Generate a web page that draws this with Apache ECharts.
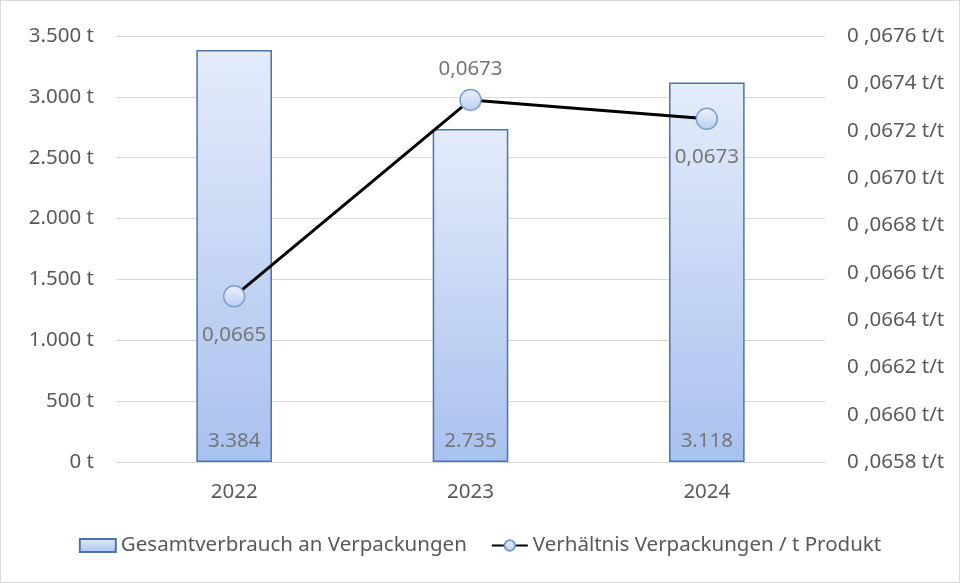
<!DOCTYPE html>
<html>
<head>
<meta charset="utf-8">
<script src="https://cdn.jsdelivr.net/npm/echarts@6/dist/echarts.min.js"></script>
<style>
  html, body { margin: 0; padding: 0; background: #fff; }
  #main { width: 958px; height: 581px; border: 1px solid #d9d9d9; }
</style>
</head>
<body>
<div id="main"></div>
<script>
var years = ['2022', '2023', '2024'];
var verbrauch = [3384, 2735, 3118];
var verhaeltnis = [0.0665, 0.06733, 0.06725];
var lineLabelPos = ['bottom', 'top', 'bottom'];

var myChart = echarts.init(document.getElementById('main'));

var barGradient = new echarts.graphic.LinearGradient(0, 0, 0, 1, [
    {offset: 0, color: '#e4ecfa'},
    {offset: 1, color: '#a8c1ee'}
]);
var dotGradient = new echarts.graphic.LinearGradient(0, 0, 0, 1, [
    {offset: 0, color: '#eef3fc'},
    {offset: 1, color: '#b9cdf0'}
]);

var font = 'Noto Sans';

function tausender(v) {
    return String(v).replace(/\B(?=(\d{3})+(?!\d))/g, '.');
}

var option = {
    animation: false,
    textStyle: {fontFamily: font},
    grid: {left: 115, right: 134, top: 35, bottom: 120},
    legend: {
        bottom: 21,
        left: 'center',
        itemGap: 24,
        itemWidth: 36,
        itemHeight: 13,
        textStyle: {color: '#595959', fontSize: 20.5, fontFamily: font},
        data: [
            {name: 'Gesamtverbrauch an Verpackungen', icon: 'rect'},
            {name: 'Verhältnis Verpackungen / t Produkt'}
        ]
    },
    xAxis: {
        type: 'category',
        data: years,
        axisLine: {lineStyle: {color: '#d9d9d9'}},
        axisTick: {show: false},
        axisLabel: {color: '#595959', fontSize: 20.5, margin: 20}
    },
    yAxis: [
        {
            type: 'value',
            min: 0,
            max: 3500,
            interval: 500,
            axisLine: {show: false},
            axisTick: {show: false},
            splitLine: {lineStyle: {color: '#d9d9d9'}},
            axisLabel: {
                color: '#595959', fontSize: 20.5, margin: 22,
                formatter: function (v) {
                    return tausender(v) + ' t';
                }
            }
        },
        {
            type: 'value',
            min: 0.0658,
            max: 0.0676,
            interval: 0.0002,
            axisLine: {show: false},
            axisTick: {show: false},
            splitLine: {show: false},
            axisLabel: {
                color: '#595959', fontSize: 20.5, margin: 22,
                formatter: function (v) {
                    return '0 ,' + v.toFixed(4).split('.')[1] + ' t/t';
                }
            }
        }
    ],
    series: [
        {
            name: 'Gesamtverbrauch an Verpackungen',
            type: 'bar',
            barWidth: '32%',
            data: verbrauch,
            itemStyle: {color: barGradient, borderColor: '#4a74b0', borderWidth: 1.5},
            label: {
                show: true,
                position: 'insideBottom',
                distance: 10,
                color: '#767676',
                fontSize: 20.5,
                formatter: function (p) {
                    return tausender(p.value);
                }
            }
        },
        {
            name: 'Verhältnis Verpackungen / t Produkt',
            type: 'line',
            yAxisIndex: 1,
            symbol: 'circle',
            symbolSize: 21,
            lineStyle: {color: '#000', width: 3},
            itemStyle: {color: dotGradient, borderColor: '#7c9fd3', borderWidth: 1.5},
            data: verhaeltnis.map(function (v, i) {
                return {
                    value: v,
                    label: {
                        position: lineLabelPos[i],
                        distance: lineLabelPos[i] === 'top' ? 9 : 17
                    }
                };
            }),
            label: {
                show: true,
                color: '#767676',
                fontSize: 20.5,
                formatter: function (p) {
                    return p.value.toFixed(4).replace('.', ',');
                }
            }
        }
    ]
};

myChart.setOption(option);
</script>
</body>
</html>
